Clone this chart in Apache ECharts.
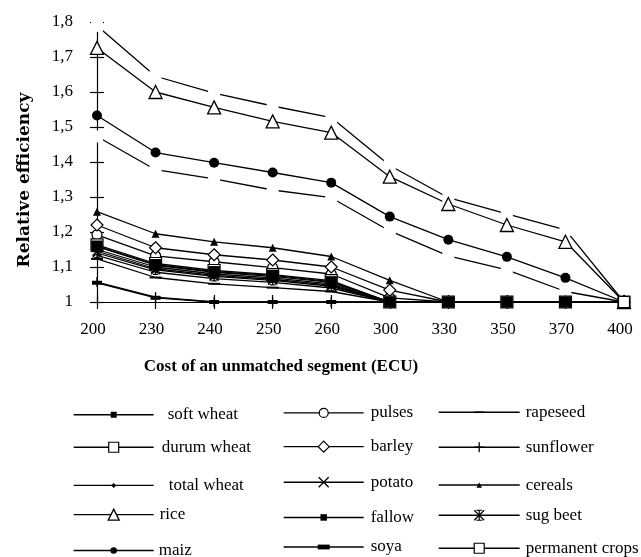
<!DOCTYPE html>
<html><head><meta charset="utf-8">
<script src="https://cdn.jsdelivr.net/npm/echarts@6/dist/echarts.min.js"></script>
<style>html,body{margin:0;padding:0;background:#fff}#c{width:641px;height:557px}</style>
</head><body><div id="c"></div>
<script>
// ---------------- data ----------------
const categories = ['200','230','240','250','260','300','330','350','370','400'];
const yTickLabels = ['1','1,1','1,2','1,3','1,4','1,5','1,6','1,7','1,8'];

const softWheat      = [1.158, 1.105, 1.085, 1.073, 1.056, 1.0, 1.0, 1.0, 1.0, 1.0];
const durumWheat     = [1.163, 1.110, 1.090, 1.078, 1.061, 1.0, 1.0, 1.0, 1.0, 1.0];
const totalWheat     = [1.150, 1.100, 1.080, 1.069, 1.052, 1.0, 1.0, 1.0, 1.0, 1.0];
const rice           = [1.726, 1.600, 1.556, 1.516, 1.484, 1.358, 1.280, 1.220, 1.172, 1.0];
const maiz           = [1.533, 1.427, 1.398, 1.370, 1.341, 1.244, 1.178, 1.129, 1.069, 1.0];
const pulses         = [1.192, 1.132, 1.115, 1.098, 1.080, 1.012, 1.0, 1.0, 1.0, 1.0];
const barley         = [1.220, 1.155, 1.135, 1.120, 1.100, 1.034, 1.0, 1.0, 1.0, 1.0];
const potato         = [1.145, 1.095, 1.076, 1.065, 1.048, 1.0, 1.0, 1.0, 1.0, 1.0];
const fallow         = [1.160, 1.107, 1.087, 1.076, 1.058, 1.0, 1.0, 1.0, 1.0, 1.0];
const soya           = [1.055, 1.012, 1.0, 1.0, 1.0, 1.0, 1.0, 1.0, 1.0, 1.0];
const rapeseed       = [1.123, 1.070, 1.052, 1.041, 1.030, 1.0, 1.0, 1.0, 1.0, 1.0];
const sunflower      = [1.057, 1.014, 1.0, 1.0, 1.0, 1.0, 1.0, 1.0, 1.0, 1.0];
const cereals        = [1.258, 1.195, 1.172, 1.155, 1.130, 1.062, 1.0, 1.0, 1.0, 1.0];
const sugBeet        = [1.140, 1.092, 1.073, 1.062, 1.045, 1.0, 1.0, 1.0, 1.0, 1.0];
const permanentCrops = [1.133, 1.085, 1.067, 1.056, 1.040, 1.0, 1.0, 1.0, 1.0, 1.0];
// unlabelled bound lines (no legend entry)
const riceUpper      = [1.789, 1.645, 1.597, 1.560, 1.527, 1.390, 1.298, 1.252, 1.206, 1.0];
const maizLower      = [1.473, 1.378, 1.352, 1.320, 1.298, 1.203, 1.132, 1.092, 1.030, 1.0];

// ---------------- styling ----------------
const SERIF = '"Liberation Serif", "Times New Roman", serif';
const BLACK = '#000';
const LINE_W = 1.3;

const PLUS  = 'path://M0,5L10,5M5,0L5,10';
const CROSS = 'path://M0,0L10,10M10,0L0,10';
const ZHE   = 'path://M0,0L10,10M10,0L0,10M5,0L5,10M2,0L8,0M2,10L8,10';
const THICK = 'path://M0,0L0,0M0,3L10,3L10,7L0,7ZM10,10L10,10';
const THIN  = 'path://M0,0L0,0M0,4.2L10,4.2L10,5.8L0,5.8ZM10,10L10,10';

// name -> [symbol, size in plot, fill, borderWidth, legend marker size]
const look = {
  'soft wheat':      ['rect', 11, BLACK, 0, 6],
  'durum wheat':     ['rect', 12, '#fff', 1.2, 10],
  'total wheat':     ['diamond', 6, BLACK, 0, 5],
  'rice':            ['triangle', 13, '#fff', 1.3, 11],
  'maiz':            ['circle', 10, BLACK, 0, 6.5],
  'pulses':          ['circle', 10, '#fff', 1.2, 9],
  'barley':          ['diamond', 12, '#fff', 1.2, 11],
  'potato':          [CROSS, 9, BLACK, 1.3, 10],
  'fallow':          ['rect', 11, BLACK, 0, 6.5],
  'soya':            [THICK, 10, BLACK, 0, 12],
  'rapeseed':        [THIN, 12, BLACK, 0, 10],
  'sunflower':       [PLUS, 10, BLACK, 1.3, 10],
  'cereals':         ['triangle', 8, BLACK, 0, 5.5],
  'sug beet':        [ZHE, 9, BLACK, 1.2, 10],
  'permanent crops': ['rect', 11, '#fff', 1.2, 10]
};

function mk(name, data, extra) {
  const l = look[name];
  return Object.assign({
    name, type: 'line', data, clip: false,
    symbol: l[0], symbolSize: l[1],
    color: BLACK,
    lineStyle: { color: BLACK, width: LINE_W },
    itemStyle: { color: l[2], borderColor: BLACK, borderWidth: l[3] },
    emphasis: { disabled: true }, silent: true
  }, extra || {});
}
function bound(name, data) {
  return {
    name, type: 'line', data, clip: false,
    symbol: 'rect', symbolSize: 12,
    lineStyle: { color: BLACK, width: LINE_W },
    itemStyle: { color: '#fff', borderWidth: 0 },
    emphasis: { disabled: true }, silent: true
  };
}

const series = [
  bound('rice upper', riceUpper),
  bound('maiz lower', maizLower),
  mk('potato', potato),
  mk('sug beet', sugBeet),
  mk('total wheat', totalWheat),
  mk('rapeseed', rapeseed),
  mk('soya', soya),
  mk('sunflower', sunflower),
  mk('pulses', pulses),
  mk('barley', barley),
  mk('cereals', cereals),
  mk('maiz', maiz),
  mk('rice', rice),
  mk('durum wheat', durumWheat),
  mk('soft wheat', softWheat),
  mk('fallow', fallow),
  mk('permanent crops', permanentCrops, {
    symbolSize: (v, p) => (p.dataIndex === categories.length - 1 ? 11 : 0)
  })
];

// ---------------- legend layout ----------------
const legendColumns = [
  ['soft wheat', 'durum wheat', 'total wheat', 'rice', 'maiz'],
  ['pulses', 'barley', 'potato', 'fallow', 'soya'],
  ['rapeseed', 'sunflower', 'cereals', 'sug beet', 'permanent crops']
];
const colPos = [ { x0: 73, x1: 153, tx: 164 }, { x0: 283, x1: 363, tx: 370 }, { x0: 438, x1: 519, tx: 525 } ];
const rowY = [410, 445, 480, 513, 546];
const textShift = { 'soft wheat': 3, 'total wheat': 4, 'durum wheat': -3, 'rice': -5, 'maiz': -7 };

const legends = [];
legendColumns.forEach((col, ci) => {
  col.forEach((name, ri) => {
    const p = colPos[ci];
    const h = look[name][4] / 0.8;
    const tx = p.tx + (textShift[name] || 0);
    legends.push({
      data: [name], left: p.x0, top: rowY[ri] - h / 2,
      itemWidth: p.x1 - p.x0, itemHeight: h, padding: 0, itemGap: 0,
      selectedMode: false,
      textStyle: { fontFamily: SERIF, fontSize: 17, color: BLACK, padding: [0, 0, 0, Math.max(0, tx - (p.x1 + 5))] },
      itemStyle: { borderWidth: look[name][3] },
      lineStyle: { width: 1.4, color: BLACK }
    });
  });
});

const tickLine = { color: BLACK, width: 1.2 };
const option = {
  animation: false,
  backgroundColor: '#fff',
  grid: { left: 97, right: 17, top: 22, bottom: 255 },
  xAxis: [
    { type: 'category', data: categories, boundaryGap: false,
      axisLine: { lineStyle: tickLine },
      axisTick: { show: true, length: 7, lineStyle: tickLine },
      axisLabel: { margin: 19, fontFamily: SERIF, fontSize: 17, color: BLACK, padding: [0, 8, 0, 0] },
      splitLine: { show: false } },
    { type: 'category', data: categories, boundaryGap: false, position: 'bottom',
      axisLine: { show: false },
      axisTick: { show: true, inside: true, length: 7, lineStyle: tickLine },
      axisLabel: { show: false }, splitLine: { show: false } }
  ],
  yAxis: [
    { type: 'value', min: 1, max: 1.8, interval: 0.1,
      axisLine: { show: true, lineStyle: tickLine },
      axisTick: { show: true, length: 7, lineStyle: tickLine },
      axisLabel: { margin: 24, fontFamily: SERIF, fontSize: 17, color: BLACK,
        formatter: v => yTickLabels[Math.round((v - 1) * 10)] },
      splitLine: { show: false } },
    { type: 'value', min: 1, max: 1.8, interval: 0.1, position: 'left',
      axisLine: { show: false },
      axisTick: { show: true, inside: true, length: 7, lineStyle: tickLine },
      axisLabel: { show: false }, splitLine: { show: false } }
  ],
  legend: legends,
  series: series,
  graphic: [
    { type: 'text', x: 25, y: 180, rotation: Math.PI / 2,
      style: { text: 'Relative efficiency', fill: BLACK, align: 'center', verticalAlign: 'middle',
        font: 'bold 17px "DejaVu Serif", serif' } },
    { type: 'text', x: 281, y: 367,
      style: { text: 'Cost of an unmatched segment (ECU)', fill: BLACK, align: 'center', verticalAlign: 'middle',
        font: 'bold 17px "Liberation Serif", serif' } }
  ]
};
const chart = echarts.init(document.getElementById('c'));
chart.setOption(option);
</script></body></html>
